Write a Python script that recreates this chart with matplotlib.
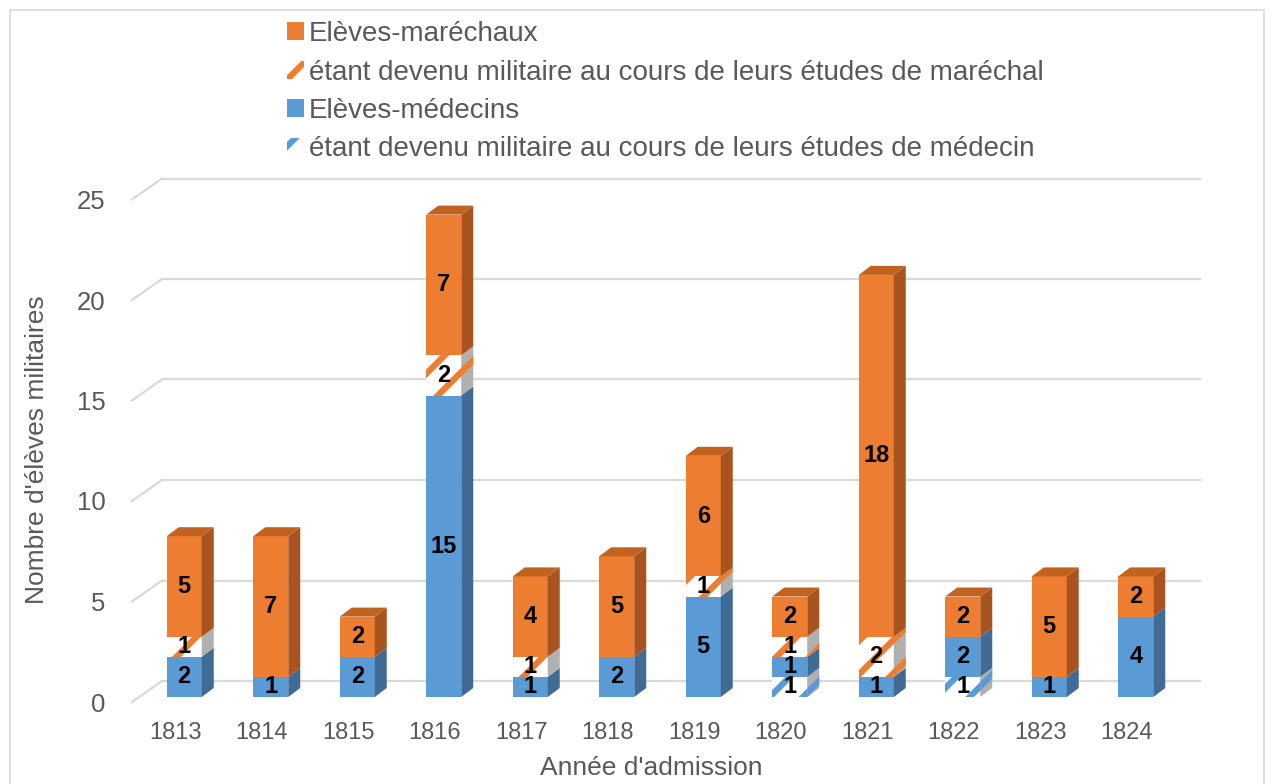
import matplotlib
matplotlib.use("Agg")
import matplotlib.pyplot as plt
from matplotlib.patches import Patch, Polygon, Rectangle

years = [1813, 1814, 1815, 1816, 1817, 1818, 1819, 1820, 1821, 1822, 1823, 1824]
med_mil = [0, 0, 0, 0, 0, 0, 0, 1, 0, 1, 0, 0]
med = [2, 1, 2, 15, 1, 2, 5, 1, 1, 2, 1, 4]
mar_mil = [1, 0, 0, 2, 1, 0, 1, 1, 2, 0, 0, 0]
mar = [5, 7, 2, 7, 4, 5, 6, 2, 18, 2, 5, 2]

labels = ["Elèves-maréchaux",
          "étant devenu militaire au cours de leurs études de maréchal",
          "Elèves-médecins",
          "étant devenu militaire au cours de leurs études de médecin"]

BLUE, BLUE_SIDE = "#5b9bd5", "#3f6b95"
ORANGE, ORANGE_SIDE, ORANGE_TOP = "#ed7d31", "#a9541e", "#c2621f"
GRID = "#d9d9d9"
TXT = "#595959"

plt.rcParams["font.family"] = ["Liberation Sans", "DejaVu Sans"]
plt.rcParams["hatch.linewidth"] = 4.5

W, H = 1274, 784
fig = plt.figure(figsize=(W / 100, H / 100), dpi=100)

# front plane (axis labels, walls) and bar plane, in pixels
x0, x1 = 132, 1170
yf0, yb0, span = 702, 697, 502.5
front = fig.add_axes([x0 / W, (H - yf0) / H, (x1 - x0) / W, span / H], zorder=0)
ax = fig.add_axes([x0 / W, (H - yb0) / H, (x1 - x0) / W, span / H], zorder=1)
for a in (front, ax):
    a.set_xlim(-0.5, 11.5)
    a.set_ylim(0, 25)
    for s in a.spines.values():
        s.set_visible(False)
ax.patch.set_visible(False)

ppx = (x1 - x0) / 12
ppy = span / 25

# back wall gridlines + diagonals
bdx, bdy = 30 / ppx, 21 / ppy
for v in range(0, 26, 5):
    front.plot([-0.5 + bdx, 11.5 + bdx], [v + bdy, v + bdy], color=GRID, lw=1.6,
               clip_on=False)
    front.plot([-0.5, -0.5 + bdx], [v, v + bdy], color=GRID, lw=1.6,
               clip_on=False)

# bars with a bit of depth, set back a little from the front plane
bw = 35 / ppx
shift = 9 / ppx
ddx, ddy = 12 / ppx, 9 / ppy
series = [
    (med_mil, "white", BLUE, "#b0b0b0", True),
    (med, BLUE, BLUE, BLUE_SIDE, False),
    (mar_mil, "white", ORANGE, "#b0b0b0", True),
    (mar, ORANGE, ORANGE, ORANGE_SIDE, False),
]
totals = [sum(s[0][i] for s in series) for i in range(len(years))]
for i in range(len(years)):
    bottom = 0
    xc = i + shift
    for vals, fc, ec, side, hatched in series:
        h = vals[i]
        if h == 0:
            continue
        xl, xr = xc - bw / 2, xc + bw / 2
        ax.bar(xc, h, bottom=bottom, width=bw, color=fc, edgecolor=ec,
               hatch="/" if hatched else None, linewidth=0, zorder=2)
        ax.add_patch(Polygon([(xr, bottom), (xr + ddx, bottom + ddy),
                              (xr + ddx, bottom + h + ddy), (xr, bottom + h)],
                             closed=True, facecolor=side, edgecolor=ec,
                             hatch="/" if hatched else None, linewidth=0,
                             zorder=2, clip_on=False))
        if bottom + h == totals[i]:
            ax.add_patch(Polygon([(xl, bottom + h), (xl + ddx, bottom + h + ddy),
                                  (xr + ddx, bottom + h + ddy), (xr, bottom + h)],
                                 closed=True, facecolor=ORANGE_TOP, linewidth=0,
                                 zorder=2, clip_on=False))
        ax.text(xc, bottom + h / 2, str(h), ha="center", va="center",
                fontsize=17, fontweight="bold", color="black", zorder=3)
        bottom += h

ax.set_xticks(range(len(years)))
ax.set_xticklabels([str(y) for y in years])
ax.set_yticks([])
ax.tick_params(axis="x", length=0, colors=TXT, pad=18, labelsize=17)
front.set_xticks([])
front.set_yticks(range(0, 26, 5))
front.tick_params(axis="y", length=0, colors=TXT, pad=19, labelsize=18.5)

fig.text(651 / W, 1 - 768 / H, "Année d'admission", fontsize=19, color=TXT,
         ha="center", va="center")
fig.text(37 / W, 1 - 450 / H, "Nombre d'élèves militaires", fontsize=19,
         color=TXT, ha="center", va="center", rotation=90)

handles = [Patch(facecolor=ORANGE, linewidth=0),
           Patch(facecolor="white", edgecolor=ORANGE, hatch="/", linewidth=0),
           Patch(facecolor=BLUE, linewidth=0),
           Patch(facecolor="white", edgecolor=BLUE, hatch="/", linewidth=0)]
fig.legend(handles, labels, loc="upper left", bbox_to_anchor=(287 / W, 1 - 21 / H),
           frameon=False, fontsize=20, labelcolor=TXT, handlelength=0.6,
           handleheight=0.6, handletextpad=0.2, labelspacing=0.45, borderpad=0,
           borderaxespad=0)

fig.patches.append(Rectangle((10 / W, -0.1), (W - 20) / W, 1.1 - 10 / H,
                             transform=fig.transFigure, fill=False,
                             edgecolor=GRID, linewidth=1.2))

fig.savefig("out.png", dpi=100)
